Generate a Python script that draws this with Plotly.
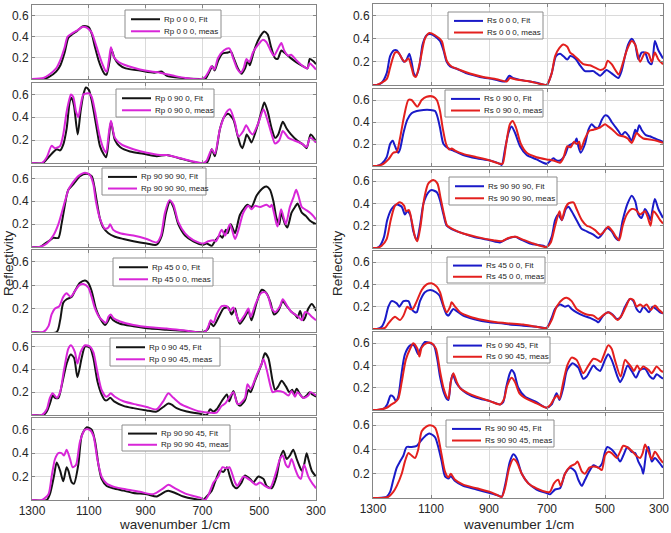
import plotly.graph_objects as go

W, H = 671, 533
FONT = "Liberation Sans, Arial, sans-serif"

# ---------------- data: (wavenumber 1/cm, reflectivity) ----------------
RP_000_FIT = [(1300,0),(1260,0),(1240,0.02),(1215,0.07),(1200,0.13),(1185,0.25),(1172,0.39),(1160,0.42),(1143,0.45),(1120,0.5),(1100,0.49),(1090,0.43),(1078,0.3),(1066,0.18),(1055,0.1),(1045,0.05),(1038,0.04),(1028,0.15),(1020,0.28),(1010,0.2),(995,0.14),(970,0.1),(920,0.08),(870,0.06),(845,0.07),(838,0.06),(825,0.03),(770,0.01),(710,0),(690,0),(675,0.07),(665,0.12),(657,0.08),(645,0.17),(630,0.24),(610,0.25),(600,0.26),(590,0.2),(575,0.1),(562,0.05),(550,0.1),(540,0.17),(533,0.13),(520,0.25),(505,0.36),(490,0.43),(482,0.45),(470,0.42),(458,0.3),(445,0.2),(435,0.19),(422,0.27),(412,0.25),(390,0.2),(370,0.16),(345,0.12),(330,0.1),(322,0.19),(310,0.17),(300,0.14)]
RP_000_MEAS = [(1300,0),(1260,0.01),(1240,0.04),(1215,0.1),(1200,0.18),(1185,0.3),(1175,0.4),(1160,0.43),(1140,0.46),(1125,0.49),(1110,0.49),(1100,0.47),(1090,0.44),(1078,0.35),(1065,0.24),(1052,0.14),(1042,0.08),(1037,0.07),(1028,0.2),(1022,0.3),(1012,0.21),(995,0.16),(960,0.12),(920,0.09),(880,0.07),(850,0.06),(835,0.05),(800,0.03),(760,0.01),(705,0),(690,0.02),(678,0.07),(668,0.12),(658,0.09),(645,0.2),(625,0.27),(605,0.29),(592,0.2),(578,0.1),(565,0.06),(555,0.1),(545,0.19),(535,0.16),(522,0.25),(505,0.32),(488,0.37),(475,0.35),(460,0.27),(448,0.22),(435,0.28),(422,0.34),(412,0.27),(398,0.22),(388,0.23),(370,0.18),(345,0.12),(330,0.1),(322,0.15),(310,0.12),(300,0.09)]

RP_0900_FIT = [(1300,0),(1262,0),(1242,0.05),(1213,0.12),(1201,0.11),(1190,0.16),(1178,0.3),(1166,0.55),(1160,0.57),(1152,0.5),(1139,0.25),(1129,0.45),(1119,0.6),(1110,0.66),(1100,0.64),(1090,0.55),(1072,0.3),(1061,0.15),(1046,0.07),(1039,0.05),(1030,0.2),(1022,0.36),(1008,0.2),(990,0.14),(955,0.1),(908,0.08),(861,0.06),(826,0.07),(779,0.04),(732,0.01),(708,0),(685,0),(675,0.05),(667,0.12),(656,0.06),(638,0.3),(624,0.4),(609,0.43),(591,0.38),(577,0.25),(565,0.15),(559,0.13),(550,0.2),(544,0.25),(532,0.2),(527,0.18),(503,0.35),(490,0.47),(482,0.53),(470,0.45),(456,0.3),(444,0.22),(433,0.25),(417,0.36),(403,0.3),(388,0.25),(368,0.2),(345,0.16),(333,0.13),(319,0.25),(303,0.2),(300,0.18)]
RP_0900_MEAS = [(1300,0),(1265,0),(1248,0.05),(1231,0.15),(1219,0.13),(1201,0.15),(1190,0.25),(1178,0.45),(1166,0.58),(1163,0.6),(1155,0.58),(1145,0.45),(1137,0.4),(1129,0.5),(1119,0.6),(1100,0.61),(1090,0.58),(1078,0.45),(1063,0.25),(1049,0.13),(1039,0.09),(1030,0.25),(1022,0.37),(1008,0.22),(984,0.16),(943,0.12),(896,0.09),(849,0.07),(826,0.07),(791,0.05),(744,0.02),(697,0),(685,0.02),(667,0.12),(656,0.08),(638,0.3),(614,0.45),(603,0.47),(585,0.35),(573,0.23),(556,0.28),(546,0.33),(532,0.27),(523,0.25),(503,0.35),(485,0.47),(474,0.4),(456,0.25),(444,0.17),(429,0.2),(417,0.28),(397,0.22),(380,0.2),(350,0.17),(333,0.14),(321,0.22),(300,0.18)]

RP_909090_FIT = [(1300,0),(1272,0),(1260,0.02),(1242,0.05),(1225,0.08),(1207,0.08),(1196,0.2),(1178,0.45),(1172,0.5),(1154,0.55),(1131,0.62),(1108,0.64),(1090,0.62),(1082,0.55),(1072,0.4),(1061,0.25),(1049,0.17),(1031,0.12),(1008,0.09),(978,0.07),(943,0.05),(896,0.03),(861,0.02),(843,0.1),(828,0.3),(814,0.4),(802,0.35),(785,0.2),(761,0.1),(732,0.05),(697,0.02),(685,0.03),(667,0.01),(656,0.05),(638,0.1),(630,0.08),(617,0.15),(611,0.12),(600,0.2),(591,0.15),(585,0.12),(568,0.28),(550,0.35),(542,0.37),(527,0.35),(509,0.45),(485,0.52),(474,0.53),(462,0.5),(450,0.4),(439,0.25),(429,0.2),(423,0.3),(409,0.2),(401,0.17),(386,0.3),(374,0.35),(365,0.38),(350,0.3),(335,0.27),(321,0.23),(300,0.2)]
RP_909090_MEAS = [(1300,0),(1275,0),(1248,0.03),(1225,0.1),(1207,0.2),(1184,0.4),(1172,0.5),(1160,0.55),(1137,0.62),(1113,0.65),(1096,0.63),(1084,0.55),(1075,0.4),(1061,0.25),(1043,0.16),(1031,0.17),(1025,0.2),(1014,0.15),(990,0.12),(943,0.1),(896,0.07),(861,0.04),(846,0.1),(832,0.3),(816,0.41),(802,0.37),(785,0.22),(761,0.12),(732,0.06),(697,0.03),(679,0.05),(661,0.06),(652,0.05),(632,0.15),(620,0.1),(603,0.2),(585,0.07),(573,0.15),(556,0.3),(538,0.36),(527,0.33),(515,0.36),(497,0.35),(474,0.37),(462,0.35),(456,0.37),(448,0.3),(439,0.2),(435,0.18),(423,0.33),(413,0.25),(406,0.2),(392,0.35),(380,0.43),(370,0.5),(362,0.45),(350,0.35),(339,0.33),(321,0.3),(309,0.27),(300,0.24)]

RP_4500_FIT = [(1300,0),(1213,0),(1201,0.1),(1190,0.25),(1178,0.28),(1160,0.3),(1149,0.35),(1131,0.42),(1113,0.44),(1102,0.42),(1090,0.35),(1075,0.2),(1061,0.12),(1043,0.06),(1031,0.1),(1025,0.13),(1014,0.1),(990,0.07),(943,0.05),(884,0.03),(826,0.02),(767,0.01),(697,0),(679,0.03),(673,0.08),(661,0.05),(638,0.15),(626,0.2),(609,0.21),(597,0.15),(585,0.2),(579,0.14),(568,0.07),(550,0.13),(538,0.18),(527,0.1),(509,0.25),(491,0.36),(474,0.33),(460,0.25),(448,0.15),(433,0.18),(417,0.26),(403,0.22),(386,0.17),(374,0.15),(365,0.12),(356,0.18),(345,0.1),(339,0.12),(327,0.2),(315,0.24),(303,0.2),(300,0.18)]
RP_4500_MEAS = [(1300,0),(1260,0),(1242,0.05),(1231,0.15),(1219,0.2),(1204,0.22),(1190,0.3),(1178,0.33),(1164,0.3),(1149,0.35),(1133,0.4),(1119,0.41),(1102,0.38),(1090,0.3),(1078,0.2),(1061,0.12),(1039,0.08),(1031,0.13),(1023,0.15),(1014,0.12),(990,0.09),(943,0.06),(884,0.04),(826,0.03),(755,0.01),(691,0),(679,0.05),(671,0.1),(661,0.08),(650,0.15),(632,0.22),(614,0.22),(603,0.18),(591,0.21),(573,0.1),(568,0.09),(550,0.15),(538,0.2),(530,0.13),(511,0.25),(494,0.33),(480,0.34),(468,0.3),(456,0.2),(444,0.17),(427,0.22),(417,0.28),(401,0.22),(386,0.17),(374,0.15),(362,0.13),(350,0.1),(339,0.17),(327,0.16),(315,0.13),(300,0.1)]

RP_09045_FIT = [(1300,0),(1260,0),(1248,0.03),(1237,0.1),(1227,0.17),(1219,0.15),(1207,0.15),(1196,0.25),(1178,0.45),(1164,0.53),(1152,0.5),(1140,0.33),(1125,0.5),(1113,0.6),(1096,0.59),(1084,0.5),(1070,0.3),(1055,0.18),(1043,0.13),(1035,0.13),(1025,0.15),(1011,0.12),(978,0.08),(943,0.06),(896,0.04),(861,0.03),(838,0.07),(820,0.1),(808,0.09),(791,0.06),(755,0.03),(708,0.01),(685,0),(673,0.05),(661,0.03),(650,0.05),(632,0.12),(614,0.18),(605,0.12),(591,0.21),(577,0.1),(568,0.08),(550,0.13),(538,0.22),(530,0.2),(515,0.3),(491,0.45),(480,0.54),(468,0.5),(453,0.3),(444,0.22),(433,0.25),(421,0.3),(406,0.25),(394,0.2),(383,0.22),(378,0.18),(368,0.23),(356,0.18),(345,0.15),(333,0.17),(323,0.2),(313,0.18),(300,0.16)]
RP_09045_MEAS = [(1300,0),(1265,0),(1248,0.05),(1237,0.15),(1227,0.19),(1213,0.15),(1201,0.2),(1187,0.4),(1172,0.58),(1163,0.61),(1149,0.55),(1140,0.45),(1129,0.55),(1113,0.61),(1096,0.6),(1084,0.55),(1070,0.38),(1055,0.22),(1039,0.16),(1031,0.17),(1023,0.19),(1008,0.16),(978,0.12),(931,0.09),(896,0.07),(861,0.05),(838,0.12),(820,0.19),(802,0.15),(779,0.1),(744,0.06),(708,0.03),(673,0.02),(650,0.02),(632,0.08),(620,0.1),(591,0.2),(577,0.1),(568,0.1),(550,0.15),(541,0.27),(530,0.23),(509,0.35),(491,0.45),(485,0.49),(474,0.4),(460,0.25),(453,0.2),(439,0.21),(415,0.2),(397,0.17),(386,0.21),(374,0.16),(365,0.2),(345,0.15),(327,0.17),(319,0.2),(300,0.17)]

RP_909045_FIT = [(1300,0),(1248,0),(1237,0.05),(1223,0.2),(1213,0.32),(1201,0.25),(1190,0.16),(1178,0.28),(1172,0.25),(1160,0.15),(1152,0.14),(1137,0.3),(1125,0.55),(1108,0.62),(1090,0.6),(1078,0.5),(1066,0.3),(1055,0.18),(1037,0.12),(1014,0.1),(978,0.08),(943,0.06),(896,0.05),(861,0.03),(832,0.07),(820,0.08),(796,0.06),(767,0.03),(732,0.01),(697,0),(685,0.03),(667,0.08),(656,0.15),(638,0.25),(626,0.24),(614,0.28),(603,0.2),(591,0.12),(579,0.1),(562,0.15),(550,0.21),(532,0.18),(521,0.15),(503,0.2),(485,0.18),(474,0.12),(456,0.1),(439,0.2),(427,0.35),(415,0.42),(403,0.35),(392,0.38),(380,0.43),(368,0.35),(360,0.3),(350,0.25),(342,0.3),(333,0.4),(327,0.35),(315,0.25),(300,0.2)]
RP_909045_MEAS = [(1300,0),(1265,0),(1242,0.05),(1231,0.2),(1219,0.35),(1207,0.4),(1196,0.4),(1187,0.38),(1178,0.43),(1166,0.35),(1157,0.28),(1145,0.3),(1131,0.5),(1113,0.6),(1098,0.6),(1084,0.55),(1070,0.35),(1055,0.2),(1037,0.14),(1008,0.11),(967,0.09),(920,0.07),(873,0.05),(838,0.1),(820,0.13),(796,0.1),(755,0.05),(708,0.02),(691,0),(679,0.04),(661,0.15),(644,0.2),(629,0.28),(614,0.27),(605,0.28),(585,0.15),(577,0.12),(556,0.2),(544,0.19),(527,0.16),(511,0.13),(497,0.15),(480,0.12),(462,0.1),(439,0.25),(427,0.35),(417,0.38),(406,0.3),(397,0.28),(386,0.35),(374,0.27),(362,0.2),(353,0.18),(342,0.3),(327,0.2),(315,0.15),(300,0.1)]

RS_000_FIT = [(1300,0),(1287,0),(1270,0.02),(1253,0.1),(1241,0.25),(1228,0.3),(1218,0.3),(1205,0.25),(1193,0.2),(1184,0.22),(1175,0.27),(1167,0.2),(1159,0.1),(1152,0.08),(1141,0.15),(1129,0.35),(1115,0.43),(1103,0.44),(1086,0.42),(1069,0.38),(1057,0.3),(1046,0.2),(1034,0.16),(1011,0.14),(977,0.1),(931,0.07),(885,0.05),(845,0.03),(830,0.08),(816,0.06),(782,0.04),(736,0.02),(701,0),(684,0.1),(669,0.25),(655,0.27),(644,0.25),(630,0.22),(620,0.25),(603,0.23),(586,0.17),(569,0.12),(540,0.12),(529,0.1),(517,0.08),(500,0.12),(494,0.13),(477,0.1),(454,0.06),(443,0.12),(431,0.25),(420,0.35),(408,0.4),(396,0.35),(385,0.22),(374,0.28),(362,0.28),(350,0.2),(339,0.18),(328,0.38),(316,0.3),(300,0.23)]
RS_000_MEAS = [(1300,0),(1287,0),(1253,0.05),(1241,0.15),(1224,0.28),(1213,0.28),(1198,0.22),(1190,0.2),(1178,0.23),(1167,0.15),(1159,0.08),(1152,0.07),(1138,0.2),(1121,0.4),(1106,0.45),(1086,0.43),(1063,0.38),(1055,0.3),(1044,0.2),(1029,0.16),(1000,0.13),(966,0.1),(920,0.07),(874,0.05),(839,0.03),(828,0.06),(810,0.05),(759,0.03),(724,0.01),(701,0),(684,0.1),(672,0.25),(657,0.32),(644,0.35),(630,0.33),(620,0.28),(609,0.26),(592,0.22),(575,0.18),(552,0.17),(534,0.15),(515,0.13),(500,0.15),(491,0.21),(477,0.18),(462,0.12),(453,0.09),(437,0.2),(425,0.3),(408,0.38),(396,0.35),(379,0.2),(362,0.28),(350,0.27),(339,0.2),(328,0.28),(316,0.22),(300,0.18)]

RS_0900_FIT = [(1300,0),(1287,0),(1270,0.02),(1253,0.08),(1241,0.2),(1232,0.23),(1224,0.18),(1213,0.12),(1207,0.15),(1195,0.3),(1182,0.42),(1167,0.48),(1149,0.5),(1126,0.51),(1103,0.51),(1086,0.5),(1078,0.45),(1069,0.35),(1057,0.2),(1040,0.16),(1023,0.14),(989,0.1),(943,0.07),(897,0.05),(862,0.02),(856,0.01),(845,0.15),(833,0.3),(822,0.36),(810,0.3),(793,0.18),(770,0.1),(736,0.06),(713,0.03),(701,0.02),(687,0.05),(678,0.07),(667,0.05),(655,0.05),(638,0.1),(626,0.18),(615,0.2),(603,0.22),(598,0.25),(592,0.18),(584,0.12),(569,0.2),(557,0.33),(546,0.38),(534,0.35),(523,0.35),(511,0.42),(500,0.46),(489,0.45),(477,0.4),(454,0.32),(443,0.28),(431,0.31),(420,0.28),(408,0.23),(396,0.33),(391,0.3),(382,0.37),(374,0.33),(359,0.28),(345,0.27),(328,0.25),(300,0.22)]
RS_0900_MEAS = [(1300,0),(1287,0),(1264,0.02),(1247,0.06),(1230,0.12),(1218,0.13),(1207,0.25),(1193,0.45),(1178,0.6),(1167,0.6),(1147,0.54),(1132,0.6),(1115,0.63),(1092,0.63),(1080,0.6),(1069,0.5),(1060,0.35),(1048,0.2),(1037,0.15),(1029,0.16),(1017,0.14),(989,0.11),(943,0.08),(897,0.05),(862,0.02),(853,0.02),(841,0.2),(828,0.38),(818,0.41),(807,0.35),(790,0.2),(770,0.12),(736,0.08),(701,0.06),(678,0.05),(655,0.03),(644,0.07),(630,0.18),(618,0.17),(607,0.22),(598,0.2),(589,0.22),(584,0.15),(569,0.25),(554,0.32),(540,0.33),(517,0.35),(500,0.38),(489,0.36),(474,0.33),(454,0.28),(437,0.27),(422,0.25),(408,0.21),(400,0.25),(391,0.3),(379,0.27),(368,0.25),(345,0.24),(322,0.23),(300,0.21)]

RS_909090_FIT = [(1300,0),(1287,0),(1276,0.02),(1262,0.1),(1251,0.25),(1236,0.35),(1218,0.39),(1201,0.37),(1190,0.3),(1182,0.33),(1172,0.3),(1161,0.15),(1149,0.07),(1138,0.2),(1126,0.4),(1109,0.5),(1098,0.52),(1080,0.5),(1069,0.43),(1057,0.3),(1046,0.2),(1029,0.17),(1000,0.14),(954,0.1),(897,0.07),(862,0.05),(839,0.08),(810,0.1),(793,0.08),(759,0.04),(713,0.02),(701,0.01),(684,0.1),(672,0.25),(661,0.3),(649,0.25),(635,0.35),(626,0.37),(615,0.33),(598,0.25),(580,0.17),(563,0.15),(540,0.12),(523,0.09),(511,0.12),(494,0.18),(477,0.15),(466,0.1),(454,0.07),(439,0.25),(422,0.4),(408,0.47),(396,0.42),(385,0.3),(374,0.27),(362,0.35),(350,0.3),(343,0.25),(336,0.35),(328,0.44),(316,0.35),(300,0.27)]
RS_909090_MEAS = [(1300,0),(1287,0),(1270,0.02),(1253,0.08),(1239,0.25),(1224,0.38),(1207,0.41),(1193,0.38),(1186,0.33),(1176,0.34),(1167,0.25),(1155,0.1),(1147,0.06),(1136,0.2),(1123,0.45),(1109,0.58),(1092,0.61),(1078,0.58),(1067,0.45),(1055,0.3),(1044,0.2),(1025,0.17),(989,0.13),(943,0.1),(885,0.07),(856,0.06),(833,0.09),(807,0.1),(787,0.08),(747,0.04),(701,0.01),(687,0.05),(672,0.2),(657,0.33),(649,0.25),(638,0.35),(626,0.4),(609,0.41),(598,0.35),(580,0.25),(563,0.2),(552,0.19),(534,0.16),(517,0.12),(506,0.14),(489,0.19),(474,0.15),(462,0.1),(451,0.07),(439,0.2),(425,0.3),(408,0.35),(393,0.34),(379,0.3),(362,0.33),(352,0.27),(343,0.2),(333,0.33),(322,0.3),(310,0.25),(300,0.22)]

RS_4500_FIT = [(1300,0),(1287,0),(1270,0.02),(1259,0.08),(1247,0.2),(1236,0.25),(1218,0.23),(1209,0.2),(1195,0.25),(1178,0.25),(1167,0.18),(1155,0.15),(1149,0.15),(1138,0.25),(1121,0.33),(1103,0.35),(1083,0.33),(1071,0.3),(1057,0.2),(1046,0.13),(1040,0.12),(1032,0.15),(1023,0.18),(1011,0.16),(989,0.12),(954,0.09),(897,0.06),(851,0.05),(828,0.04),(782,0.03),(736,0.02),(701,0.01),(684,0.1),(672,0.18),(655,0.22),(638,0.2),(626,0.21),(615,0.18),(598,0.15),(575,0.12),(552,0.1),(529,0.07),(523,0.06),(506,0.12),(489,0.15),(474,0.13),(460,0.09),(448,0.1),(431,0.2),(414,0.27),(402,0.25),(391,0.18),(379,0.15),(368,0.2),(359,0.18),(348,0.15),(336,0.2),(324,0.18),(310,0.15),(300,0.14)]
RS_4500_MEAS = [(1300,0),(1287,0),(1259,0.01),(1247,0.05),(1230,0.1),(1224,0.11),(1207,0.08),(1195,0.12),(1186,0.18),(1182,0.2),(1172,0.18),(1163,0.18),(1149,0.25),(1132,0.35),(1115,0.4),(1098,0.41),(1080,0.38),(1069,0.33),(1055,0.2),(1046,0.15),(1034,0.2),(1029,0.24),(1017,0.2),(1000,0.15),(966,0.11),(920,0.08),(874,0.06),(828,0.05),(782,0.04),(736,0.02),(701,0.01),(684,0.08),(667,0.2),(644,0.27),(632,0.28),(615,0.25),(598,0.18),(580,0.15),(563,0.13),(540,0.12),(523,0.09),(508,0.12),(489,0.15),(472,0.12),(457,0.08),(443,0.12),(428,0.2),(414,0.27),(402,0.26),(391,0.2),(379,0.22),(368,0.2),(356,0.22),(343,0.17),(328,0.21),(313,0.17),(300,0.14)]

RS_09045_FIT = [(1300,0),(1287,0),(1264,0.01),(1251,0.05),(1239,0.13),(1230,0.12),(1221,0.08),(1213,0.12),(1203,0.3),(1190,0.5),(1172,0.58),(1159,0.58),(1144,0.5),(1136,0.55),(1121,0.61),(1103,0.6),(1090,0.58),(1078,0.45),(1069,0.3),(1055,0.15),(1046,0.1),(1040,0.09),(1032,0.25),(1025,0.32),(1014,0.25),(1000,0.2),(977,0.15),(943,0.11),(897,0.08),(862,0.05),(851,0.07),(841,0.2),(828,0.33),(822,0.36),(813,0.33),(799,0.2),(776,0.12),(736,0.07),(701,0.02),(684,0.05),(667,0.15),(657,0.09),(644,0.2),(632,0.35),(620,0.4),(612,0.42),(592,0.38),(575,0.28),(563,0.3),(540,0.4),(529,0.37),(517,0.35),(500,0.45),(489,0.5),(477,0.45),(457,0.3),(448,0.25),(437,0.3),(422,0.4),(408,0.35),(393,0.29),(379,0.36),(362,0.37),(345,0.3),(333,0.28),(322,0.32),(310,0.3),(300,0.28)]
RS_09045_MEAS = [(1300,0),(1287,0),(1253,0.02),(1236,0.05),(1224,0.07),(1213,0.1),(1201,0.25),(1187,0.45),(1172,0.55),(1161,0.6),(1147,0.55),(1140,0.48),(1132,0.56),(1115,0.6),(1098,0.6),(1083,0.55),(1069,0.35),(1057,0.2),(1046,0.12),(1040,0.1),(1032,0.25),(1023,0.33),(1011,0.25),(998,0.19),(971,0.15),(943,0.12),(897,0.08),(862,0.05),(848,0.1),(837,0.22),(822,0.29),(810,0.25),(795,0.15),(770,0.1),(736,0.06),(701,0.02),(687,0.05),(676,0.1),(664,0.13),(657,0.1),(644,0.25),(630,0.4),(615,0.47),(598,0.45),(575,0.33),(557,0.4),(540,0.46),(526,0.45),(515,0.43),(503,0.5),(489,0.58),(477,0.55),(466,0.45),(446,0.3),(431,0.45),(420,0.42),(408,0.38),(400,0.35),(389,0.4),(379,0.36),(368,0.39),(350,0.36),(339,0.33),(322,0.39),(310,0.36),(300,0.34)]

RS_909045_FIT = [(1300,0),(1287,0),(1253,0.01),(1241,0.05),(1230,0.15),(1218,0.25),(1207,0.3),(1195,0.35),(1184,0.42),(1167,0.42),(1149,0.43),(1132,0.48),(1115,0.52),(1103,0.53),(1086,0.5),(1075,0.42),(1063,0.3),(1052,0.18),(1040,0.16),(1032,0.18),(1017,0.14),(989,0.1),(943,0.07),(897,0.04),(868,0.02),(856,0.01),(845,0.1),(828,0.3),(816,0.36),(805,0.33),(787,0.2),(764,0.12),(736,0.07),(701,0.04),(690,0.03),(672,0.07),(655,0.08),(638,0.2),(620,0.25),(603,0.22),(592,0.15),(580,0.1),(569,0.15),(554,0.22),(540,0.27),(523,0.25),(511,0.28),(500,0.38),(492,0.42),(477,0.4),(460,0.35),(448,0.3),(437,0.35),(423,0.42),(408,0.38),(396,0.37),(385,0.3),(374,0.25),(368,0.2),(362,0.3),(356,0.4),(350,0.42),(339,0.3),(328,0.33),(316,0.3),(300,0.25)]
RS_909045_MEAS = [(1300,0),(1287,0),(1247,0.01),(1230,0.05),(1218,0.1),(1201,0.2),(1190,0.3),(1178,0.37),(1167,0.35),(1155,0.33),(1144,0.4),(1132,0.55),(1115,0.59),(1103,0.6),(1086,0.58),(1075,0.5),(1063,0.35),(1052,0.22),(1040,0.17),(1032,0.2),(1017,0.15),(989,0.11),(943,0.08),(897,0.05),(868,0.02),(856,0.01),(845,0.08),(830,0.25),(816,0.32),(805,0.3),(787,0.2),(764,0.12),(736,0.08),(701,0.05),(690,0.05),(676,0.12),(661,0.15),(653,0.1),(638,0.2),(620,0.26),(603,0.28),(595,0.3),(580,0.22),(569,0.2),(554,0.25),(540,0.26),(523,0.25),(511,0.23),(500,0.35),(489,0.38),(477,0.37),(460,0.33),(448,0.38),(437,0.43),(425,0.42),(408,0.39),(393,0.35),(379,0.33),(370,0.37),(362,0.44),(350,0.38),(339,0.32),(328,0.38),(310,0.32),(300,0.29)]

# ---------------- labels / ticks ----------------
X_TICKS = [1300, 1100, 900, 700, 500, 300]
X_TICK_TEXT = ["1300", "1100", "900", "700", "500", "300"]
Y_TICKS = [0.2, 0.4, 0.6]
Y_TICK_TEXT = ["0.2", "0.4", "0.6"]
X_TITLE = "wavenumber 1/cm"
Y_TITLE = "Reflectivity"

LEFT_LABELS = [("Rp 0 0 0, Fit", "Rp 0 0 0, meas"), ("Rp 0 90 0, Fit", "Rp 0 90 0, meas"),
               ("Rp 90 90 90, Fit", "Rp 90 90 90, meas"), ("Rp 45 0 0, Fit", "Rp 45 0 0, meas"),
               ("Rp 0 90 45, Fit", "Rp 0 90 45, meas"), ("Rp 90 90 45, Fit", "Rp 90 90 45, meas")]
RIGHT_LABELS = [("Rs 0 0 0, Fit", "Rs 0 0 0, meas"), ("Rs 0 90 0, Fit", "Rs 0 90 0, meas"),
                ("Rs 90 90 90, Fit", "Rs 90 90 90, meas"), ("Rs 45 0 0, Fit", "Rs 45 0 0, meas"),
                ("Rs 0 90 45, Fit", "Rs 0 90 45, meas"), ("Rs 90 90 45, Fit", "Rs 90 90 45, meas")]
LEFT_SERIES = [(RP_000_FIT, RP_000_MEAS), (RP_0900_FIT, RP_0900_MEAS), (RP_909090_FIT, RP_909090_MEAS),
               (RP_4500_FIT, RP_4500_MEAS), (RP_09045_FIT, RP_09045_MEAS), (RP_909045_FIT, RP_909045_MEAS)]
RIGHT_SERIES = [(RS_000_FIT, RS_000_MEAS), (RS_0900_FIT, RS_0900_MEAS), (RS_909090_FIT, RS_909090_MEAS),
                (RS_4500_FIT, RS_4500_MEAS), (RS_09045_FIT, RS_09045_MEAS), (RS_909045_FIT, RS_909045_MEAS)]

COLORS = {"left": ("#141414", "#d826d8"), "right": ("#1a1ac8", "#e3201e")}

# ---------------- geometry (pixels) ----------------
COL_X = {"left": (32, 316), "right": (373, 663)}
ROWS = {"left": [(5, 79), (83, 163), (167, 247), (250, 332), (335, 415), (418, 500)],
        "right": [(4, 85), (89, 166), (170, 248), (251, 329), (332, 410), (413, 498)]}
LEGENDS = {"left": [(125, 10, 221, 38), (116, 89, 214, 117), (102, 168, 206, 195),
                    (113, 258, 213, 286), (110, 338, 220, 366), (122, 425, 230, 451)],
           "right": [(448, 12, 543, 39), (445, 90, 543, 117), (449, 177, 557, 205),
                     (447, 257, 545, 283), (447, 337, 550, 363), (446, 420, 554, 447)]}


def px(x):
    return x / W


def py(y):
    return 1 - y / H


fig = go.Figure()
layout = {}
shapes = []
annotations = []
AX_COLOR = "#858585"
GRID = "#dadada"
TICKFONT = dict(family=FONT, size=12, color="#262626")

n = 0
for col, labels, series in (("left", LEFT_LABELS, LEFT_SERIES), ("right", RIGHT_LABELS, RIGHT_SERIES)):
    c_fit, c_meas = COLORS[col]
    x0, x1 = COL_X[col]
    for r in range(6):
        n += 1
        sfx = "" if n == 1 else str(n)
        xa, ya = "x" + sfx, "y" + sfx
        fit, meas = series[r]
        for data, color, name in ((fit, c_fit, labels[r][0]), (meas, c_meas, labels[r][1])):
            fig.add_trace(go.Scatter(
                x=[p[0] for p in data], y=[p[1] for p in data], mode="lines", name=name,
                line=dict(color=color, width=2, shape="spline", smoothing=0.7),
                showlegend=False, xaxis=xa, yaxis=ya, hoverinfo="skip"))
        top, bot = ROWS[col][r]
        tick_text = list(X_TICK_TEXT)
        if col == "right":
            # last label sits at the figure edge; it is drawn separately so it stays whole
            tick_text[-1] = ""
        layout["xaxis" + sfx] = dict(
            domain=[px(x0), px(x1)], anchor=ya, range=[1300, 300], tickmode="array",
            tickvals=X_TICKS, ticktext=tick_text, showticklabels=(r == 5), automargin=False,
            showgrid=True, gridcolor=GRID, gridwidth=1, zeroline=False,
            showline=True, mirror="ticks", linecolor=AX_COLOR, linewidth=1,
            ticks="inside", ticklen=3, tickcolor=AX_COLOR, tickfont=TICKFONT, fixedrange=True)
        layout["yaxis" + sfx] = dict(
            domain=[py(bot), py(top)], anchor=xa, range=[0, 0.7], tickmode="array",
            tickvals=Y_TICKS, ticktext=Y_TICK_TEXT, showgrid=True, gridcolor=GRID, gridwidth=1,
            zeroline=False, showline=True, mirror="ticks", linecolor=AX_COLOR, linewidth=1,
            automargin=False, ticks="inside", ticklen=3, tickcolor=AX_COLOR, tickfont=TICKFONT,
            fixedrange=True)

        # per-panel legend box
        lx0, ly0, lx1, ly1 = LEGENDS[col][r]
        h = ly1 - ly0
        shapes.append(dict(type="rect", xref="paper", yref="paper", x0=px(lx0), x1=px(lx1),
                           y0=py(ly1), y1=py(ly0), fillcolor="white",
                           line=dict(color="#8c8c8c", width=1), layer="above"))
        for k, (color, label) in enumerate(((c_fit, labels[r][0]), (c_meas, labels[r][1]))):
            yy = ly0 + h * (0.33 if k == 0 else 0.76)
            shapes.append(dict(type="line", xref="paper", yref="paper", x0=px(lx0 + 6), x1=px(lx0 + 35),
                               y0=py(yy), y1=py(yy), line=dict(color=color, width=2), layer="above"))
            annotations.append(dict(x=px(lx0 + 37), y=py(yy), xref="paper", yref="paper", text=label,
                                    showarrow=False, xanchor="left", yanchor="middle",
                                    font=dict(family=FONT, size=8, color="#222222")))

    # axis titles per column
    annotations.append(dict(x=px((x0 + x1) / 2), y=py(524), xref="paper", yref="paper", text=X_TITLE,
                            showarrow=False, xanchor="center", yanchor="middle",
                            font=dict(family=FONT, size=13.5, color="#262626")))

# edge tick label of the right column, kept inside the picture
annotations.append(dict(x=px(670), y=py(509), xref="paper", yref="paper", text=X_TICK_TEXT[-1],
                        showarrow=False, xanchor="right", yanchor="middle", borderpad=0,
                        font=TICKFONT))

annotations.append(dict(x=px(9), y=py(263), xref="paper", yref="paper", text=Y_TITLE, textangle=-90,
                        showarrow=False, xanchor="center", yanchor="middle",
                        font=dict(family=FONT, size=13.5, color="#262626")))
annotations.append(dict(x=px(338), y=py(263), xref="paper", yref="paper", text=Y_TITLE, textangle=-90,
                        showarrow=False, xanchor="center", yanchor="middle",
                        font=dict(family=FONT, size=13.5, color="#262626")))

fig.update_layout(
    width=W, height=H, autosize=False, margin=dict(l=0, r=0, t=0, b=0, autoexpand=False),
    paper_bgcolor="white", plot_bgcolor="white", showlegend=False,
    font=dict(family=FONT), shapes=shapes, annotations=annotations, **layout)

fig.write_html("out.html")
